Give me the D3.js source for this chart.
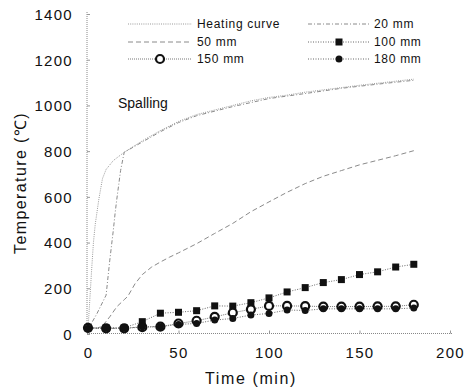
<!DOCTYPE html>
<html><head><meta charset="utf-8">
<script src="https://cdn.jsdelivr.net/npm/d3@7"></script>
<style>
html,body{margin:0;padding:0;background:#fff;}
svg{display:block;}
text{font-family:"Liberation Sans",Arial,sans-serif;fill:#111;}
</style></head>
<body>
<svg id="chart" width="470" height="392"></svg>
<script>
// ---- data ----
const xTicks = [0, 50, 100, 150, 200];
const yTicks = [0, 200, 400, 600, 800, 1000, 1200, 1400];

const heatT = [0,1,2,3,4,6,8,10,14,20,30,40,50,60,70,80,90,100,110,120,130,140,150,160,170,180];
const heatV = [20,150,280,400,480,590,680,720,759,795,845,890,930,960,980,1000,1020,1035,1045,1058,1068,1078,1088,1097,1106,1115];

const mm20T = [0,5,10,12,14,15,16,17,18,20,30,40,50,60,80,100,120,140,160,180];
const mm20V = [20,90,170,320,455,530,595,655,715,795,840,885,925,955,995,1030,1052,1075,1093,1110];

const mm50T = [0,5,8,12,16,20,22,26,30,35,40,45,50,60,70,80,90,100,110,120,130,140,150,160,170,180];
const mm50V = [20,25,35,75,120,150,165,220,260,292,315,336,355,395,440,484,535,578,620,658,690,715,740,760,780,802];

const markT = [0,10,20,30,40,50,60,70,80,90,100,110,120,130,140,150,160,170,180];
const mm100V = [27,27,27,54,91,95,102,123,122,137,158,184,203,225,238,260,272,293,305];
const mm150V = [27,25,25,30,32,46,58,75,93,108,123,123,122,120,120,120,121,121,128];
const mm180V = [25,25,25,32,32,42,46,61,68,83,90,105,103,110,110,110,110,110,114];

const seriesNames = ["Heating curve","20 mm","50 mm","100 mm","150 mm","180 mm"];

// ---- setup ----
const svg = d3.select("#chart");
const x = d3.scaleLinear().domain([0,200]).range([88,450]);
const y = d3.scaleLinear().domain([0,1400]).range([334,14]);

// axes lines (dotted gray)
svg.append("line").attr("x1",87).attr("x2",87).attr("y1",12).attr("y2",334)
  .attr("stroke","#888").attr("stroke-width",1).attr("stroke-dasharray","1,1");
svg.append("line").attr("x1",87).attr("x2",452).attr("y1",333.5).attr("y2",333.5)
  .attr("stroke","#888").attr("stroke-width",1).attr("stroke-dasharray","1,1");

// y axis ticks & labels
const yAxis = d3.axisLeft(y).tickValues(yTicks).tickSize(-3).tickPadding(14).tickFormat(d3.format("d"));
const gy = svg.append("g").attr("transform","translate(87,0)").call(yAxis);
gy.select(".domain").remove();
gy.selectAll(".tick line").attr("stroke","#999");
gy.selectAll(".tick text").attr("font-family","'Liberation Sans',Arial,sans-serif")
  .attr("font-size",15).attr("letter-spacing","1.3px").attr("fill","#111").attr("dy","0.36em");

// x axis ticks & labels
const xAxis = d3.axisBottom(x).tickValues(xTicks).tickSize(-3).tickPadding(14).tickFormat(d3.format("d"));
const gx = svg.append("g").attr("transform","translate(0,333.5)").call(xAxis);
gx.select(".domain").remove();
gx.selectAll(".tick line").attr("stroke","#999");
gx.selectAll(".tick text").attr("font-family","'Liberation Sans',Arial,sans-serif")
  .attr("font-size",15).attr("letter-spacing","1.3px").attr("fill","#111");

// axis titles
svg.append("text").attr("x",251).attr("y",384).attr("text-anchor","middle")
  .attr("font-size",16).attr("letter-spacing","1.6px").text("Time (min)");
svg.append("text").attr("transform","translate(26,183) rotate(-90)").attr("text-anchor","middle")
  .attr("font-size",16).attr("letter-spacing","1.4px").text("Temperature (\u2103)");

// annotation
svg.append("text").attr("x",118).attr("y",108).attr("font-size",14).text("Spalling");

// ---- lines ----
const line = d3.line().x(d=>x(d[0])).y(d=>y(d[1]));
const zip = (t,v)=>t.map((d,i)=>[d,v[i]]);

const styles = {
  "Heating curve": {stroke:"#999", dash:"1,1.2", w:1},
  "20 mm": {stroke:"#8a8a8a", dash:"4,2,1,2", w:1},
  "50 mm": {stroke:"#8a8a8a", dash:"5,3", w:1},
  "100 mm": {stroke:"#666", dash:"1,1.5", w:1},
  "150 mm": {stroke:"#777", dash:"1,1", w:1},
  "180 mm": {stroke:"#666", dash:"1,1.5", w:1}
};
const data = {
  "Heating curve": zip(heatT, heatV),
  "20 mm": zip(mm20T, mm20V),
  "50 mm": zip(mm50T, mm50V),
  "100 mm": zip(markT, mm100V),
  "150 mm": zip(markT, mm150V),
  "180 mm": zip(markT, mm180V)
};

["50 mm","20 mm","Heating curve","100 mm","180 mm","150 mm"].forEach(k=>{
  const s = styles[k];
  svg.append("path").datum(data[k]).attr("d",line).attr("fill","none")
    .attr("stroke",s.stroke).attr("stroke-width",s.w).attr("stroke-dasharray",s.dash);
});

function marker(g, kind, cx, cy){
  if(kind==="100 mm"){
    g.append("rect").attr("x",cx-3.5).attr("y",cy-3.5).attr("width",7).attr("height",7).attr("fill","#111");
  } else if(kind==="150 mm"){
    g.append("circle").attr("cx",cx).attr("cy",cy).attr("r",4).attr("fill","#fff")
      .attr("stroke","#111").attr("stroke-width",2.2);
  } else if(kind==="180 mm"){
    g.append("circle").attr("cx",cx).attr("cy",cy).attr("r",3.5).attr("fill","#111");
  }
}
const gm = svg.append("g");
["100 mm","150 mm","180 mm"].forEach(k=>{
  data[k].forEach(d=>marker(gm,k,x(d[0]),y(d[1])));
});

// ---- legend ----
const legendCols = [{x1:128,x2:192,tx:197},{x1:308,x2:370,tx:374}];
const legendRows = [24,42,59];
seriesNames.forEach((k,i)=>{
  const c = legendCols[i%2], ry = legendRows[Math.floor(i/2)];
  const s = styles[k];
  svg.append("line").attr("x1",c.x1).attr("x2",c.x2).attr("y1",ry).attr("y2",ry)
    .attr("stroke",s.stroke).attr("stroke-width",1).attr("stroke-dasharray",s.dash);
  marker(svg,k,(c.x1+c.x2)/2,ry);
  svg.append("text").attr("x",c.tx).attr("y",ry).attr("dy","0.36em")
    .attr("font-size",12).attr("letter-spacing","0.7px").text(k);
});
</script>
</body></html>
